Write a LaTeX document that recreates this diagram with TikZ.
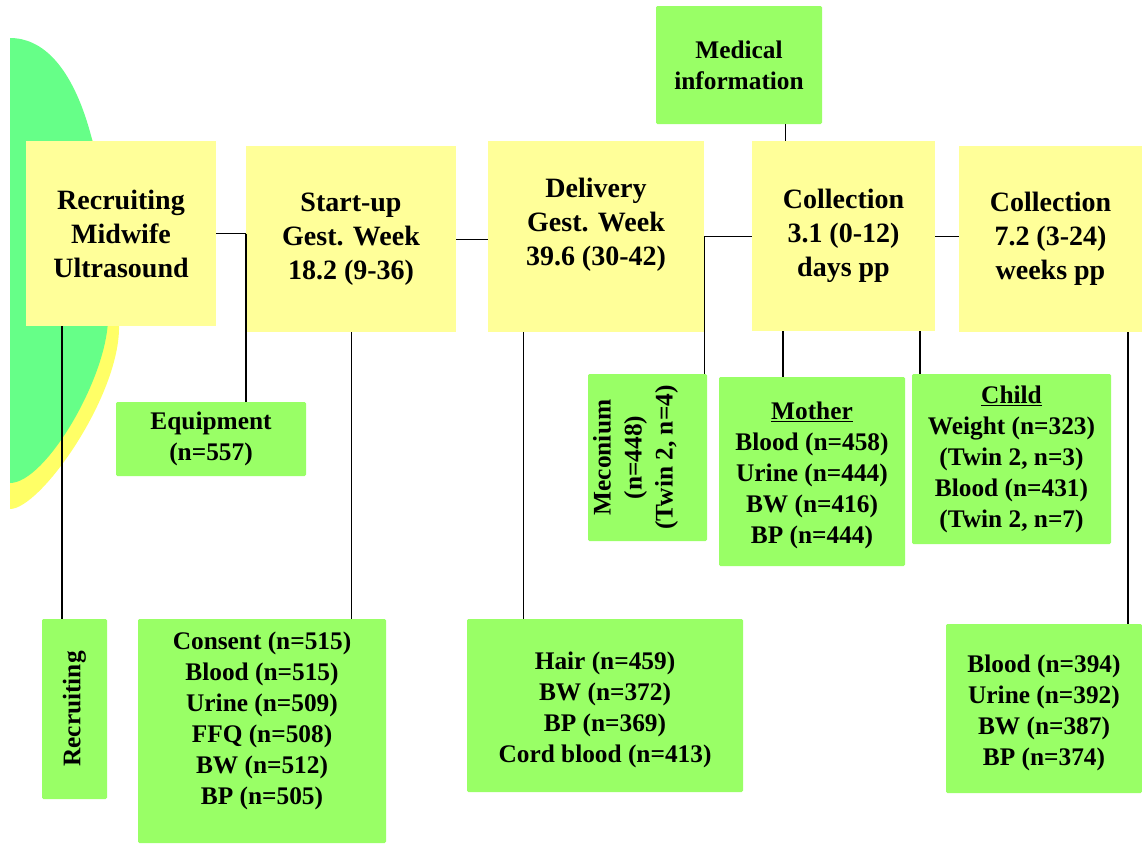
\documentclass[tikz,border=0pt]{standalone}
\usepackage{fontspec}
\setmainfont{Liberation Serif}
\usepackage{tikz}
\usepackage{xcolor}

\definecolor{boxyellow}{RGB}{255,255,153}
\definecolor{boxgreen}{RGB}{153,255,102}
\definecolor{ovalgreen}{RGB}{102,255,136}
\definecolor{ovalyellow}{RGB}{255,255,102}

\tikzset{
  ytxt/.style={align=center, inner sep=0pt, font=\bfseries\fontsize{21}{25.5}\selectfont},
  gtxt/.style={align=center, inner sep=0pt, font=\bfseries\fontsize{19}{23.25}\selectfont},
  ybox/.style={ytxt, fill=boxyellow},
  gbox/.style={gtxt, fill=boxgreen, rounded corners=1pt},
  sz/.style 2 args={minimum width=#1*0.75pt, minimum height=#2*0.75pt},
  link/.style={draw=black, line width=0.7pt},
  tlink/.style={draw=black, line width=1.4pt}
}

\begin{document}
\begin{tikzpicture}[x=0.75pt,y=0.75pt,yscale=-1,xscale=1]
\useasboundingbox (0,0) rectangle (1142,843);

%Shape: Oval (yellow, behind)
\fill[ovalyellow] (10,60) .. controls (80,60) and (122,180) .. (119,330) .. controls (117,400) and (40,509) .. (10,509) -- cycle;
%Shape: Oval (green)
\fill[ovalgreen] (10,38) .. controls (75,38) and (112,150) .. (108,320) .. controls (106,380) and (45,483) .. (10,483) -- cycle;

% Time line
\node[ybox, sz={190}{185}] (rec) at (121,233.5) {Recruiting\\Midwife\\Ultrasound};
\node[ybox, sz={210}{186}] (startup) at (351,239) {Start-up\\Gest. Week\\18.2 (9-36)};
\node[ybox, sz={216}{191}, label={[ytxt, yshift=9pt]center:{Delivery\\Gest. Week\\39.6 (30-42)}}] (deliv) at (596,236.5) {};
\node[ybox, sz={183}{190}] (coll1) at (843.5,236) {Collection\\3.1 (0-12)\\days pp};
\node[ybox, sz={183}{186}] (coll2) at (1050.5,239) {Collection\\7.2 (3-24)\\weeks pp};

% Samples
\node[gbox, sz={166}{118}] (med) at (739,65) {Medical\\information};
\node[gbox, sz={190}{74}] (equip) at (211,439) {Equipment\\(n=557)};
\node[gbox, sz={65}{180}] (recv) at (74.5,709) {\rotatebox{90}{Recruiting}};
\node[gbox, sz={248}{224}, label={[gtxt, yshift=7.5pt]center:{Consent (n=515)\\Blood (n=515)\\Urine (n=509)\\FFQ (n=508)\\BW (n=512)\\BP (n=505)}}] (sbox) at (262,731) {};
\node[gbox, sz={119}{167}, label={[gtxt, xshift=-9pt]center:{\rotatebox{90}{\begin{tabular}{@{}c@{}}Meconium\\(n=448)\\(Twin 2, n=4)\end{tabular}}}}] (mec) at (647.5,457.5) {};
\node[gbox, sz={186}{189}, label={[gtxt, yshift=-3pt]center:{\underline{Mother}\\Blood (n=458)\\Urine (n=444)\\BW (n=416)\\BP (n=444)}}] (mother) at (812,471.5) {};
\node[gbox, sz={199}{170}] (child) at (1011.5,459) {\underline{Child}\\Weight (n=323)\\(Twin 2, n=3)\\Blood (n=431)\\(Twin 2, n=7)};
\node[gbox, sz={276}{173}, label={[gtxt, yshift=-3pt]center:{Hair (n=459)\\BW (n=372)\\BP (n=369)\\Cord blood (n=413)}}] (dbox) at (605,705.5) {};
\node[gbox, sz={196}{169}, label={[gtxt, yshift=-3pt]center:{Blood (n=394)\\Urine (n=392)\\BW (n=387)\\BP (n=374)}}] (cbox) at (1044,708.5) {};

% Tap points
\coordinate (tapA) at (62,0);
\coordinate (tapB) at (523,0);
\coordinate (tapC) at (783,0);
\coordinate (tapD) at (920,0);
\coordinate (tapE) at (1128,0);
\coordinate (tapF) at (785,0);

% Connectors
\draw[link] (rec.east) -- (rec.east -| startup.west);
\draw[tlink] (rec.east -| startup.west) -- (startup.west |- equip.north);
\draw[link] (startup.east) -- (startup.east -| deliv.west);
\draw[link] (deliv.east) -- (deliv.east -| coll1.west);
\draw[link] (deliv.east) -- (deliv.east |- mec.north);
\draw[link] (coll1.east) -- (coll1.east -| coll2.west);
\draw[link] (tapF |- med.south) -- (tapF |- coll1.north);
\draw[tlink] (tapA |- rec.south) -- (tapA |- recv.north);
\draw[link] (startup.south) -- (startup.south |- sbox.north);
\draw[link] (tapB |- deliv.south) -- (tapB |- dbox.north);
\draw[tlink] (tapC |- coll1.south) -- (tapC |- mother.north);
\draw[tlink] (tapD |- coll1.south) -- (tapD |- child.north);
\draw[tlink] (tapE |- coll2.south) -- (tapE |- cbox.north);

\end{tikzpicture}
\end{document}
